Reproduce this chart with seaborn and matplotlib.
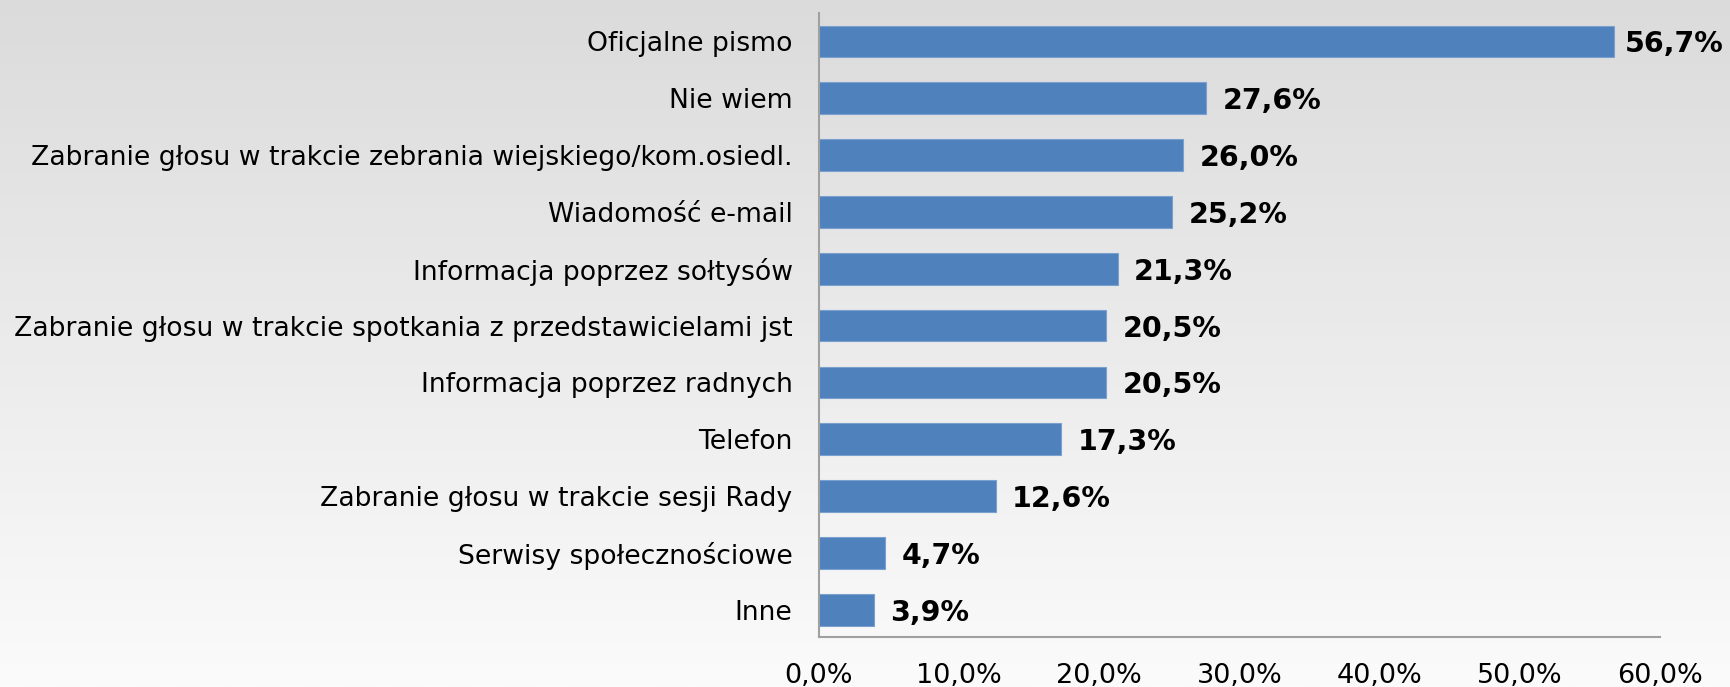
import numpy as np
import pandas as pd
import matplotlib.pyplot as plt
import seaborn as sns

sns.set_style("white")
plt.rcParams['font.family'] = ['DejaVu Sans']

# data
categories = ['Oficjalne pismo', 'Nie wiem',
              'Zabranie głosu w trakcie zebrania wiejskiego/kom.osiedl.',
              'Wiadomość e-mail', 'Informacja poprzez sołtysów',
              'Zabranie głosu w trakcie spotkania z przedstawicielami jst',
              'Informacja poprzez radnych', 'Telefon',
              'Zabranie głosu w trakcie sesji Rady',
              'Serwisy społecznościowe', 'Inne']
values = [56.7, 27.6, 26.0, 25.2, 21.3, 20.5, 20.5, 17.3, 12.6, 4.7, 3.9]
xticks = [0, 10, 20, 30, 40, 50, 60]

df = pd.DataFrame({'kategoria': categories, 'procent': values})

fig = plt.figure(figsize=(17.3, 6.87), dpi=100)

# grey gradient background
bg = fig.add_axes([0, 0, 1, 1], zorder=-10)
grad = np.linspace(0, 1, 256).reshape(-1, 1)
bg.imshow(grad, aspect='auto', cmap=plt.matplotlib.colors.LinearSegmentedColormap.from_list(
    'g', ['#dbdbdb', '#fbfbfb']), extent=[0, 1, 0, 1])
bg.axis('off')

ax = fig.add_axes([0.4734, 0.0728, 0.4861, 0.9082])
ax.patch.set_alpha(0)
sns.barplot(data=df, x='procent', y='kategoria', color='#4f81bd', saturation=1,
            width=0.56, edgecolor='#7aa0cf', linewidth=0.8, ax=ax)

ax.set_xlim(0, 60)
ax.set_ylim(10.48, -0.5)
ax.set_xticks(xticks)
ax.set_xticklabels([f'{t:.1f}%'.replace('.', ',') for t in xticks])
ax.set_xlabel('')
ax.set_ylabel('')
ax.tick_params(axis='x', length=0, pad=19, labelsize=19.5, labelcolor='black')
ax.tick_params(axis='y', length=0, pad=19, labelsize=19.2, labelcolor='black')
for lbl in ax.get_yticklabels():
    lbl.set_verticalalignment('center_baseline')

for s in ['top', 'right']:
    ax.spines[s].set_visible(False)
for s in ['left', 'bottom']:
    ax.spines[s].set_color('#a0a0a0')
    ax.spines[s].set_linewidth(1.5)

txts = ax.bar_label(ax.containers[0], labels=[f'{v:.1f}%'.replace('.', ',') for v in values],
                    padding=12, fontsize=20.5, fontweight='bold', color='black')
for t in txts:
    t.set_verticalalignment('center_baseline')
# longest bar: label squeezed closer so it fits inside the figure
txts[0].xyann = (8, txts[0].xyann[1])

fig.savefig('out.png', dpi=100)
